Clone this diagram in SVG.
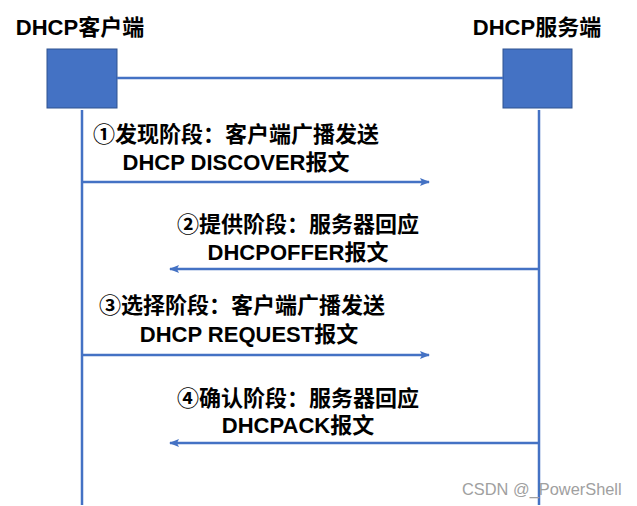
<svg xmlns="http://www.w3.org/2000/svg" width="637" height="506" viewBox="0 0 637 506">
<style>
.t{font-family:"Liberation Sans","Noto Sans CJK SC",sans-serif;font-weight:bold;font-size:22px;fill:#000;text-anchor:middle}
.ln{stroke:#4472C4;stroke-width:2.5;fill:none}
.box{fill:#4472C4;stroke:#2F528F;stroke-width:1}
.wm{font-family:"Liberation Sans",Arial,sans-serif;font-size:16.4px;fill:#a0a0a0}
</style>
<defs>
<marker id="ah" markerWidth="10" markerHeight="8" refX="9" refY="4" orient="auto" markerUnits="userSpaceOnUse">
<path d="M0,0 L10,4 L0,8 L2,4 Z" fill="#4472C4"/>
</marker>
</defs>
<rect width="637" height="506" fill="#fff"/>
<g id="client">
<text class="t" x="80" y="35">DHCP客户端</text>
<rect class="box" x="47" y="49" width="70" height="59"/>
</g>
<g id="server">
<text class="t" x="537" y="35">DHCP服务端</text>
<rect class="box" x="503" y="49" width="69" height="59"/>
</g>
<g id="connectors">
<line class="ln" x1="117" y1="78" x2="503" y2="78"/>
<line class="ln" x1="82" y1="110" x2="82" y2="505"/>
<line class="ln" x1="539" y1="110" x2="539" y2="505"/>
<line class="ln" x1="82" y1="182" x2="429" y2="182" marker-end="url(#ah)"/>
<line class="ln" x1="539" y1="269" x2="170" y2="269" marker-end="url(#ah)"/>
<line class="ln" x1="82" y1="355" x2="429" y2="355" marker-end="url(#ah)"/>
<line class="ln" x1="539" y1="443" x2="170" y2="443" marker-end="url(#ah)"/>
</g>
<g id="labels">
<text class="t" x="236" y="142">①发现阶段：客户端广播发送</text>
<text class="t" x="236" y="170">DHCP DISCOVER报文</text>
<text class="t" x="298" y="232">②提供阶段：服务器回应</text>
<text class="t" x="298" y="260">DHCPOFFER报文</text>
<text class="t" x="242" y="313">③选择阶段：客户端广播发送</text>
<text class="t" x="249" y="342">DHCP REQUEST报文</text>
<text class="t" x="298" y="406">④确认阶段：服务器回应</text>
<text class="t" x="298" y="433">DHCPACK报文</text>
</g>
<text class="wm" x="462" y="495">CSDN @_PowerShell</text>
</svg>
